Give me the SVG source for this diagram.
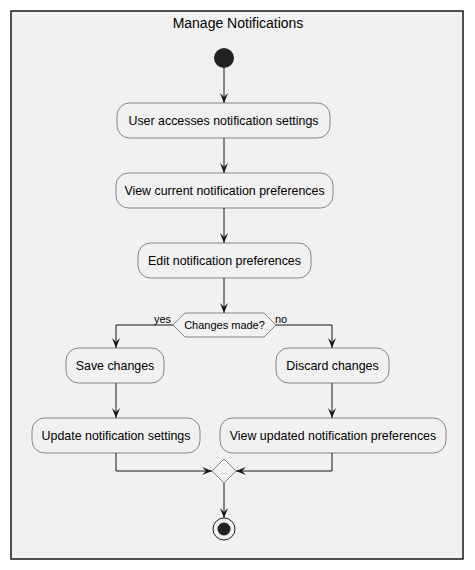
<svg xmlns="http://www.w3.org/2000/svg" width="475" height="570" viewBox="0 0 475 570">
<style>
text{font-family:"Liberation Sans",Arial,sans-serif;fill:#000}
.box{fill:#F1F1F1;stroke:#181818;stroke-width:0.5}
.lbl{font-size:12.4px;text-anchor:middle}
.ln{fill:none;stroke:#181818;stroke-width:1}
</style>
<defs>
<marker id="ah" markerUnits="userSpaceOnUse" viewBox="0 0 10 8" refX="10" refY="4" markerWidth="10" markerHeight="8" orient="auto">
<path d="M0,0 L10,4 L0,8 L4,4 Z" fill="#181818"/>
</marker>
</defs>
<rect width="475" height="570" fill="#fff"/>
<g id="frame">
<rect x="11" y="11" width="452" height="548" fill="#F1F1F1" stroke="#181818" stroke-width="1.5"/>
<text x="238" y="28" font-size="14" text-anchor="middle">Manage Notifications</text>
</g>
<g id="start"><circle cx="224" cy="58" r="10" fill="#222"/></g>
<g id="n1"><rect class="box" x="117" y="103" width="213" height="35" rx="12.5"/><text class="lbl" x="223.5" y="125">User accesses notification settings</text></g>
<g id="n2"><rect class="box" x="116" y="173" width="217" height="35" rx="12.5"/><text class="lbl" x="224.5" y="195">View current notification preferences</text></g>
<g id="n3"><rect class="box" x="138" y="243" width="173" height="35" rx="12.5"/><text class="lbl" x="224.5" y="265">Edit notification preferences</text></g>
<g id="decision"><polygon class="box" points="173,325 185,313 264,313 276,325 264,337 185,337"/><text x="224.5" y="329" font-size="11" text-anchor="middle">Changes made?</text></g>
<g id="n4"><rect class="box" x="66" y="348" width="98" height="35" rx="12.5"/><text class="lbl" x="115" y="370">Save changes</text></g>
<g id="n5"><rect class="box" x="276" y="348" width="113" height="35" rx="12.5"/><text class="lbl" x="332.5" y="370">Discard changes</text></g>
<g id="n6"><rect class="box" x="32" y="418" width="168" height="35" rx="12.5"/><text class="lbl" x="116" y="440">Update notification settings</text></g>
<g id="n7"><rect class="box" x="220" y="418" width="226" height="35" rx="12.5"/><text class="lbl" x="333" y="440">View updated notification preferences</text></g>
<g id="merge"><polygon class="box" points="224,459 236,471 224,483 212,471"/></g>
<g id="end"><circle cx="224" cy="529" r="11" fill="none" stroke="#222" stroke-width="1"/><circle cx="224" cy="529" r="6.5" fill="#222"/></g>
<g id="connectors">
<line class="ln" x1="224" y1="68" x2="224" y2="103" marker-end="url(#ah)"/>
<line class="ln" x1="224" y1="138" x2="224" y2="173" marker-end="url(#ah)"/>
<line class="ln" x1="224" y1="208" x2="224" y2="243" marker-end="url(#ah)"/>
<line class="ln" x1="224" y1="278" x2="224" y2="313" marker-end="url(#ah)"/>
<polyline class="ln" points="173,325 116,325 116,348" marker-end="url(#ah)"/>
<text x="154" y="323" font-size="11">yes</text>
<polyline class="ln" points="276,325 332,325 332,348" marker-end="url(#ah)"/>
<text x="275" y="323" font-size="11">no</text>
<line class="ln" x1="116" y1="383" x2="116" y2="418" marker-end="url(#ah)"/>
<line class="ln" x1="332" y1="383" x2="332" y2="418" marker-end="url(#ah)"/>
<polyline class="ln" points="116,453 116,471 212,471" marker-end="url(#ah)"/>
<polyline class="ln" points="332,453 332,471 236,471" marker-end="url(#ah)"/>
<line class="ln" x1="224" y1="483" x2="224" y2="518" marker-end="url(#ah)"/>
</g>
</svg>
